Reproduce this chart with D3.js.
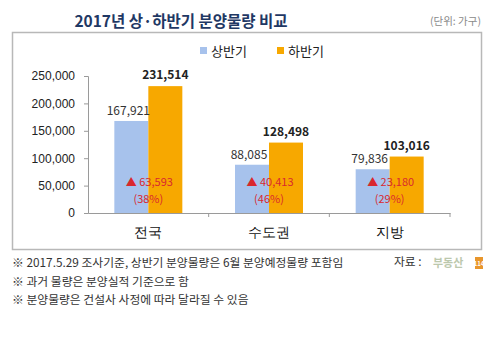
<!DOCTYPE html>
<html>
<head>
<meta charset="utf-8">
<style>
    body { margin: 0; background: #fff; }
    svg { display: block; font-family: "Noto Sans CJK KR", "Noto Sans", sans-serif; }
    .y .domain, .x .domain { stroke: #9a9a9a; }
    .y .tick line { stroke: #9a9a9a; }
    .y .tick text { fill: #222; font-size: 12px; }
    .x .tick line { display: none; }
    .x .tick text { fill: #111; font-size: 13.5px; }
</style>
</head>
<body>
<svg width="500" height="346"></svg>
<script src="https://d3js.org/d3.v7.min.js"></script>
<script>
    let categories = ["전국", "수도권", "지방"];
    let firstHalf = [167921, 88085, 79836];
    let secondHalf = [231514, 128498, 103016];
    let increase = [63593, 40413, 23180];
    let increasePct = [38, 46, 29];
    let yTicks = [0, 50000, 100000, 150000, 200000, 250000];
    let seriesNames = ["상반기", "하반기"];
    let notes = [
        "※ 2017.5.29 조사기준, 상반기 분양물량은 6월 분양예정물량 포함임",
        "※ 과거 물량은 분양실적 기준으로 함",
        "※ 분양물량은 건설사 사정에 따라 달라질 수 있음"
    ];

    let colors = ["#a7c2ec", "#f7a800"];
    let svg = d3.select("svg");
    let fmt = d3.format(",");

    // title + unit
    svg.append("text")
        .attr("x", 181).attr("y", 27)
        .attr("text-anchor", "middle")
        .attr("font-size", "15.5px").attr("font-weight", "bold")
        .attr("fill", "#1f3864")
        .text("2017년 상·하반기 분양물량 비교");
    svg.append("text")
        .attr("x", 481).attr("y", 25)
        .attr("text-anchor", "end")
        .attr("font-size", "10.5px").attr("fill", "#8a8a8a")
        .text("(단위: 가구)");

    // chart frame
    svg.append("rect")
        .attr("x", 12.5).attr("y", 32.5)
        .attr("width", 469).attr("height", 217)
        .attr("fill", "none").attr("stroke", "#b8b8b8").attr("stroke-width", 1.5);

    let x = d3.scaleBand().domain(categories).range([88, 450]);
    let y = d3.scaleLinear().domain([0, 250000]).range([213, 76]);
    let barW = 34;

    svg.append("g")
        .attr("class", "y axis")
        .attr("transform", "translate(88,0)")
        .call(d3.axisLeft(y).tickValues(yTicks).tickSize(4).tickPadding(9).tickFormat(fmt));

    let xAxis = svg.append("g")
        .attr("class", "x axis")
        .attr("transform", "translate(0,213)")
        .call(d3.axisBottom(x).tickSize(0).tickPadding(14).tickSizeOuter(0));

    // separators between categories
    xAxis.selectAll("line.sep")
        .data(categories)
        .join("line")
        .attr("class", "sep")
        .attr("x1", d => x(d) + x.bandwidth()).attr("x2", d => x(d) + x.bandwidth())
        .attr("y1", 0).attr("y2", 4)
        .attr("stroke", "#9a9a9a");

    let cx = d => x(d) + x.bandwidth() / 2;

    // bars
    svg.append("g").selectAll("rect")
        .data(categories)
        .join("rect")
        .attr("x", d => cx(d) - barW)
        .attr("width", barW)
        .attr("y", (d, i) => y(firstHalf[i]))
        .attr("height", (d, i) => y(0) - y(firstHalf[i]))
        .attr("fill", colors[0]);

    svg.append("g").selectAll("rect")
        .data(categories)
        .join("rect")
        .attr("x", d => cx(d))
        .attr("width", barW)
        .attr("y", (d, i) => y(secondHalf[i]))
        .attr("height", (d, i) => y(0) - y(secondHalf[i]))
        .attr("fill", colors[1]);

    // value labels
    svg.append("g").selectAll("text")
        .data(categories)
        .join("text")
        .attr("x", d => cx(d) - barW / 2 - 3)
        .attr("y", (d, i) => y(firstHalf[i]) - 6)
        .attr("text-anchor", "middle")
        .attr("font-size", "12px").attr("fill", "#333")
        .text((d, i) => fmt(firstHalf[i]));

    svg.append("g").selectAll("text")
        .data(categories)
        .join("text")
        .attr("x", d => cx(d) + barW / 2)
        .attr("y", (d, i) => y(secondHalf[i]) - 7)
        .attr("text-anchor", "middle")
        .attr("font-size", "12px").attr("font-weight", "bold").attr("fill", "#222")
        .text((d, i) => fmt(secondHalf[i]));

    // increase annotations
    let inc = svg.append("g").attr("fill", "#d9282e").attr("font-size", "11px").attr("text-anchor", "middle");
    inc.selectAll("text.amt")
        .data(categories)
        .join("text")
        .attr("class", "amt")
        .attr("x", d => cx(d) + 1)
        .attr("y", 186)
        .text((d, i) => "▲ " + fmt(increase[i]));
    inc.selectAll("text.pct")
        .data(categories)
        .join("text")
        .attr("class", "pct")
        .attr("x", d => cx(d))
        .attr("y", 203)
        .text((d, i) => "(" + increasePct[i] + "%)");

    // legend
    let legend = svg.append("g").attr("transform", "translate(200,51)");
    let lg = legend.selectAll("g")
        .data(seriesNames)
        .join("g")
        .attr("transform", (d, i) => `translate(${i * 77},0)`);
    lg.append("rect")
        .attr("x", 0).attr("y", -4).attr("width", 7).attr("height", 7)
        .attr("fill", (d, i) => colors[i]);
    lg.append("text")
        .attr("x", 11).attr("y", 5)
        .attr("font-size", "13px").attr("fill", "#222")
        .text(d => d);

    // footnotes
    svg.append("g").selectAll("text")
        .data(notes)
        .join("text")
        .attr("x", 12)
        .attr("y", (d, i) => 267 + i * 18.5)
        .attr("font-size", "11.8px").attr("fill", "#333")
        .text(d => d);

    // source
    svg.append("text")
        .attr("x", 394).attr("y", 266)
        .attr("font-size", "11.8px").attr("fill", "#333")
        .text("자료 :");
    svg.append("text")
        .attr("x", 433).attr("y", 267)
        .attr("font-size", "11px").attr("font-weight", "bold").attr("fill", "#bcc8ad")
        .text("부동산");
    svg.append("rect")
        .attr("x", 475).attr("y", 257).attr("width", 8).attr("height", 12)
        .attr("fill", "#e8962c");
    svg.append("text")
        .attr("x", 479).attr("y", 266)
        .attr("text-anchor", "middle")
        .attr("font-size", "6px").attr("font-weight", "bold").attr("fill", "#fff")
        .text("114");
</script>
</body>
</html>
